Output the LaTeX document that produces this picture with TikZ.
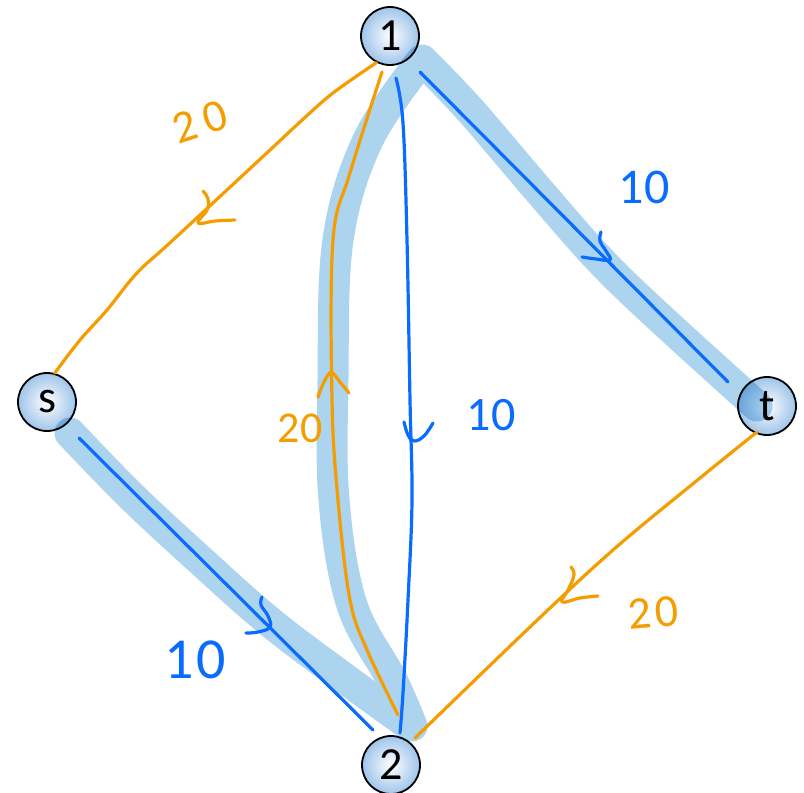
\documentclass[tikz,border=0pt]{standalone}
\usepackage{fontspec}
\setmainfont{Carlito}
\definecolor{hlblue}{HTML}{ACD4EF}
\definecolor{penblue}{HTML}{0A6CFF}
\definecolor{penorange}{HTML}{F59D00}
\definecolor{nodeedge}{HTML}{9EC4EA}
\tikzset{
  vert/.style={circle, draw=black, line width=1.8pt, minimum size=58pt, inner sep=0pt,
    shading=radial, inner color=white, outer color=nodeedge,
    font=\fontsize{46}{46}\selectfont},
  hl/.style={draw=hlblue, line width=31pt, line cap=round, line join=round},
  bpen/.style={draw=penblue, line width=3.2pt, line cap=round, line join=round},
  open/.style={draw=penorange, line width=3.2pt, line cap=round, line join=round},
  blab/.style={text=penblue, inner sep=0pt},
  olab/.style={text=penorange, inner sep=0pt},
}
\begin{document}
\begin{tikzpicture}[x=1pt,y=-1pt]
\useasboundingbox (0,0) rectangle (804,793);

% vertices
\node[vert] (n1) at (390,36) {1};
\node[vert] (ns) at (47,402) {s};
\node[vert] (nt) at (767,406) {t};
\node[vert] (n2) at (391,765) {2};

% highlighter bands (one stroke, so overlaps do not darken)
\begin{scope}[blend mode=multiply]
\draw[hl] plot[smooth, tension=0.6] coordinates {(422,60) (470,110) (540,192) (600,260) (660,318) (757,406)}
          plot[smooth, tension=0.6] coordinates {(70,433) (130,495) (200,560) (270,622) (340,675) (405,722)}
          plot[smooth, tension=0.6] coordinates {(412,726) (392,680) (352,605) (334,500) (333,380) (338,240) (368,140) (422,60)};
\end{scope}

% connector end points
\coordinate (a1) at (420,72);  \coordinate (at) at (728,382);
\coordinate (b1) at (396,78);  \coordinate (b2) at (400,733);
\coordinate (cs) at (79,438);  \coordinate (c2) at (373,730);
\coordinate (d1) at (n1.243);  \coordinate (ds) at (ns.75);
\coordinate (e2) at (398,715); \coordinate (e1) at (382,72);
\coordinate (ft) at (757,432); \coordinate (f2) at (415,738);

% blue pen: 1 -> t
\draw[bpen] (a1) -- (at);
\draw[bpen] plot[smooth, tension=0.7] coordinates {(601,232) (600,241) (606,251) (610,260) (596,259) (582,257)};
% blue pen: 1 -> 2
\draw[bpen] plot[smooth, tension=0.6] coordinates {(b1) (403,123) (407,240) (410,400) (412,500) (408,600) (403,693) (b2)};
\draw[bpen] plot[smooth, tension=0.7] coordinates {(404,422) (408,435) (414,441) (424,436) (433,423)};
% blue pen: s -> 2
\draw[bpen] (cs) -- (c2);
\draw[bpen] plot[smooth, tension=0.7] coordinates {(262,597) (261,605) (268,616) (270,627) (258,632) (246,633)};

% orange pen: 1 -> s
\draw[open] plot[smooth, tension=0.6] coordinates {(d1) (333,93) (300,122) (270,150) (173,240) (137,273) (107,310) (80,340) (ds)};
\draw[open] plot[smooth, tension=0.7] coordinates {(203,191) (208,199) (207,210) (198,223) (215,221) (235,220)};
% orange pen: 2 -> 1
\draw[open] plot[smooth, tension=0.6] coordinates {(e2) (367,650) (350,600) (338,500) (332,400) (333,240) (350,173) (e1)};
\draw[open] plot[smooth, tension=0.5] coordinates {(318,397) (323,384) (331,372) (340,382) (349,393)};
% orange pen: t -> 2
\draw[open] plot[smooth, tension=0.6] coordinates {(ft) (700,478) (613,550) (530,627) (f2)};
\draw[open] plot[smooth, tension=0.7] coordinates {(571,567) (574,575) (568,590) (562,602) (580,598) (598,596)};

% labels
\node[olab, rotate=18, font=\fontsize{46}{46}\selectfont] (l1) at (200,122) {2\hspace{9pt}0};
\node[blab, font=\fontsize{50}{50}\selectfont] (l2) at (644,187) {10};
\node[blab, font=\fontsize{48}{48}\selectfont] (l3) at (491,415) {10};
\node[olab, font=\fontsize{44}{44}\selectfont] (l4) at (300,428) {20};
\node[blab, font=\fontsize{58}{58}\selectfont] (l5) at (195,660) {1\hspace{3pt}0};
\node[olab, rotate=5, font=\fontsize{46}{46}\selectfont] (l6) at (653,613) {2\hspace{4pt}0};
\end{tikzpicture}
\end{document}
